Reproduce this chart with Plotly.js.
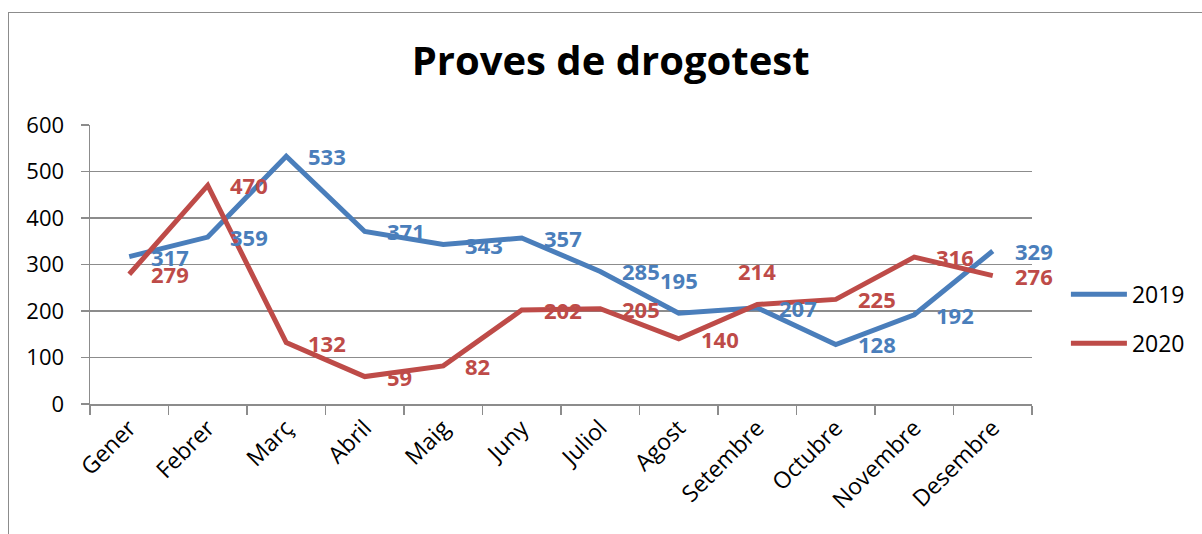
<!DOCTYPE html>
<html>
<head>
<meta charset="utf-8">
<script src="https://cdn.plot.ly/plotly-3.0.1.min.js"></script>
<style>
  html, body { margin:0; padding:0; overflow:hidden; background:#fff; }
  #chart { width:1202px; height:534px; position:absolute; left:0; top:0; }
  #frame { position:absolute; left:8px; top:12px; width:1400px; height:800px; border:1.5px solid #8c8c8c; pointer-events:none; }
</style>
</head>
<body>
<div id="chart"></div>
<div id="frame"></div>
<script>
const months = ["Gener","Febrer","Març","Abril","Maig","Juny","Juliol","Agost","Setembre","Octubre","Novembre","Desembre"];
const values2019 = [317, 359, 533, 371, 343, 357, 285, 195, 207, 128, 192, 329];
const values2020 = [279, 470, 132, 59, 82, 202, 205, 140, 214, 225, 316, 276];
const yTicks = [0, 100, 200, 300, 400, 500, 600];
// data-label placement (R = right of point, A = above point)
const labelPos2019 = ["R","R","R","R","R","R","R","A","R","R","R","R"];
const labelPos2020 = ["R","R","R","R","R","R","R","R","A","R","R","R"];

const blue = "#4A7EBB";
const red = "#BE4B48";
const font = "Open Sans, Noto Sans, sans-serif";

const traces = [
  {x: months, y: values2019, name: "2019", type: "scatter", mode: "lines",
   line: {color: blue, width: 5}, legendgroup: "a"},
  {x: months, y: values2020, name: "2020", type: "scatter", mode: "lines",
   line: {color: red, width: 5}, legendgroup: "b"}
];

function labels(vals, pos, color) {
  return vals.map((v, i) => {
    const above = pos[i] === "A";
    return {
      x: months[i], y: v, text: String(v), showarrow: false,
      xanchor: above ? "center" : "left", yanchor: "middle",
      xshift: above ? 0 : 20, yshift: above ? 33 : 0,
      font: {family: font, size: 22, color: color, weight: "bold"}
    };
  });
}

const layout = {
  width: 1202, height: 534,
  margin: {l: 90, r: 170, t: 125, b: 130},
  paper_bgcolor: "rgba(0,0,0,0)",
  plot_bgcolor: "rgba(0,0,0,0)",
  title: {text: "<b>Proves de drogotest</b>", xref: "container", x: 0.508, xanchor: "center",
          yref: "container", y: 0.885, yanchor: "middle",
          font: {family: font, size: 40, color: "#000"}},
  showlegend: true,
  legend: {x: 1.036, xanchor: "left", y: 0.47, yanchor: "top",
           font: {family: font, size: 23, color: "#000"},
           traceorder: "grouped", tracegroupgap: 16, itemwidth: 56,
           bgcolor: "rgba(0,0,0,0)"},
  xaxis: {type: "category", range: [-0.5, 11.5], tickangle: -45,
          ticks: "outside", tickson: "boundaries", ticklen: 9, tickwidth: 1.5, tickcolor: "#8c8c8c",
          showline: true, linecolor: "#8c8c8c", linewidth: 1.5, showgrid: false,
          tickfont: {family: font, size: 23, color: "#000"}, fixedrange: true},
  yaxis: {range: [0, 600], tickvals: yTicks, ticktext: yTicks.map(String),
          ticks: "outside", ticklen: 8, tickwidth: 1.5, tickcolor: "#8c8c8c",
          ticklabelstandoff: 12,
          showline: true, linecolor: "#8c8c8c", linewidth: 1.5,
          showgrid: true, gridcolor: "#8c8c8c", gridwidth: 1.5, zeroline: false,
          tickfont: {family: font, size: 22, color: "#000"}, fixedrange: true},
  annotations: labels(values2019, labelPos2019, blue).concat(labels(values2020, labelPos2020, red))
};

Plotly.newPlot("chart", traces, layout, {staticPlot: true});
</script>
</body>
</html>
